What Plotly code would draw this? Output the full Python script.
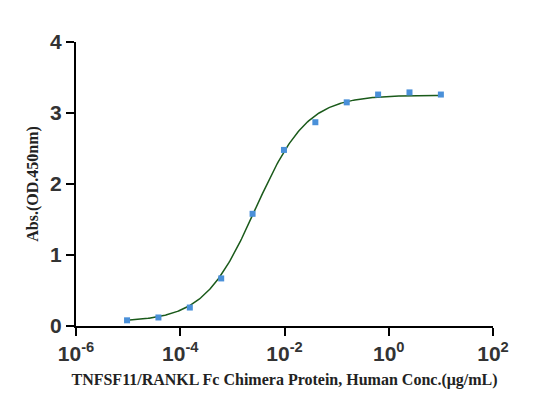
import numpy as np
import plotly.graph_objects as go

conc = [10, 2.5, 0.625, 0.15625, 0.0390625, 0.009765625, 0.00244140625,
        0.0006103515625, 0.000152587890625, 3.814697265625e-05, 9.5367431640625e-06]
od = [3.26, 3.29, 3.26, 3.15, 2.87, 2.48, 1.58, 0.67, 0.26, 0.12, 0.08]

# 4PL fit parameters
bottom, top, ec50, hill = 0.06, 3.25, 0.0028, 0.88
xfit = np.logspace(-5.02, 1.0, 300)
yfit = bottom + (top - bottom) / (1 + (ec50 / xfit) ** hill)

tickvals = [1e-6, 1e-4, 1e-2, 1, 1e2]
ticktext = ["<b>10<sup>-6</sup></b>", "<b>10<sup>-4</sup></b>", "<b>10<sup>-2</sup></b>",
            "<b>10<sup>0</sup></b>", "<b>10<sup>2</sup></b>"]

fig = go.Figure()
fig.add_trace(go.Scatter(x=xfit, y=yfit, mode="lines", line=dict(color="#1a5a1a", width=1.5)))
fig.add_trace(go.Scatter(x=conc, y=od, mode="markers",
                         marker=dict(symbol="square", size=6, color="#4a90d9")))
fig.update_layout(
    width=550, height=417, showlegend=False,
    plot_bgcolor="white", paper_bgcolor="white",
    margin=dict(l=68, r=65, t=34, b=99),
    xaxis=dict(type="log", range=[-6, 2], tickvals=tickvals, ticktext=ticktext,
               showgrid=False, zeroline=False, showline=True, linecolor="black", linewidth=2,
               ticks="outside", ticklen=8, tickwidth=2, tickcolor="black",
               tickfont=dict(family="Liberation Sans", size=21, color="#333"),
               title=dict(text="<b>TNFSF11/RANKL Fc Chimera Protein, Human Conc.(μg/mL)</b>",
                          font=dict(family="Liberation Serif", size=16, color="#222"), standoff=10)),
    yaxis=dict(range=[0, 4], tickvals=[0, 1, 2, 3, 4], ticktext=["<b>0</b>", "<b>1</b>", "<b>2</b>", "<b>3</b>", "<b>4</b>"],
               showgrid=False, zeroline=False, showline=True, linecolor="black", linewidth=2,
               ticks="outside", ticklen=8, tickwidth=2, tickcolor="black",
               tickfont=dict(family="Liberation Sans", size=21, color="#333"),
               title=dict(text="<b>Abs.(OD.450nm)</b>",
                          font=dict(family="Liberation Serif", size=16, color="#222"), standoff=8)),
)
fig.write_html("out.html")
